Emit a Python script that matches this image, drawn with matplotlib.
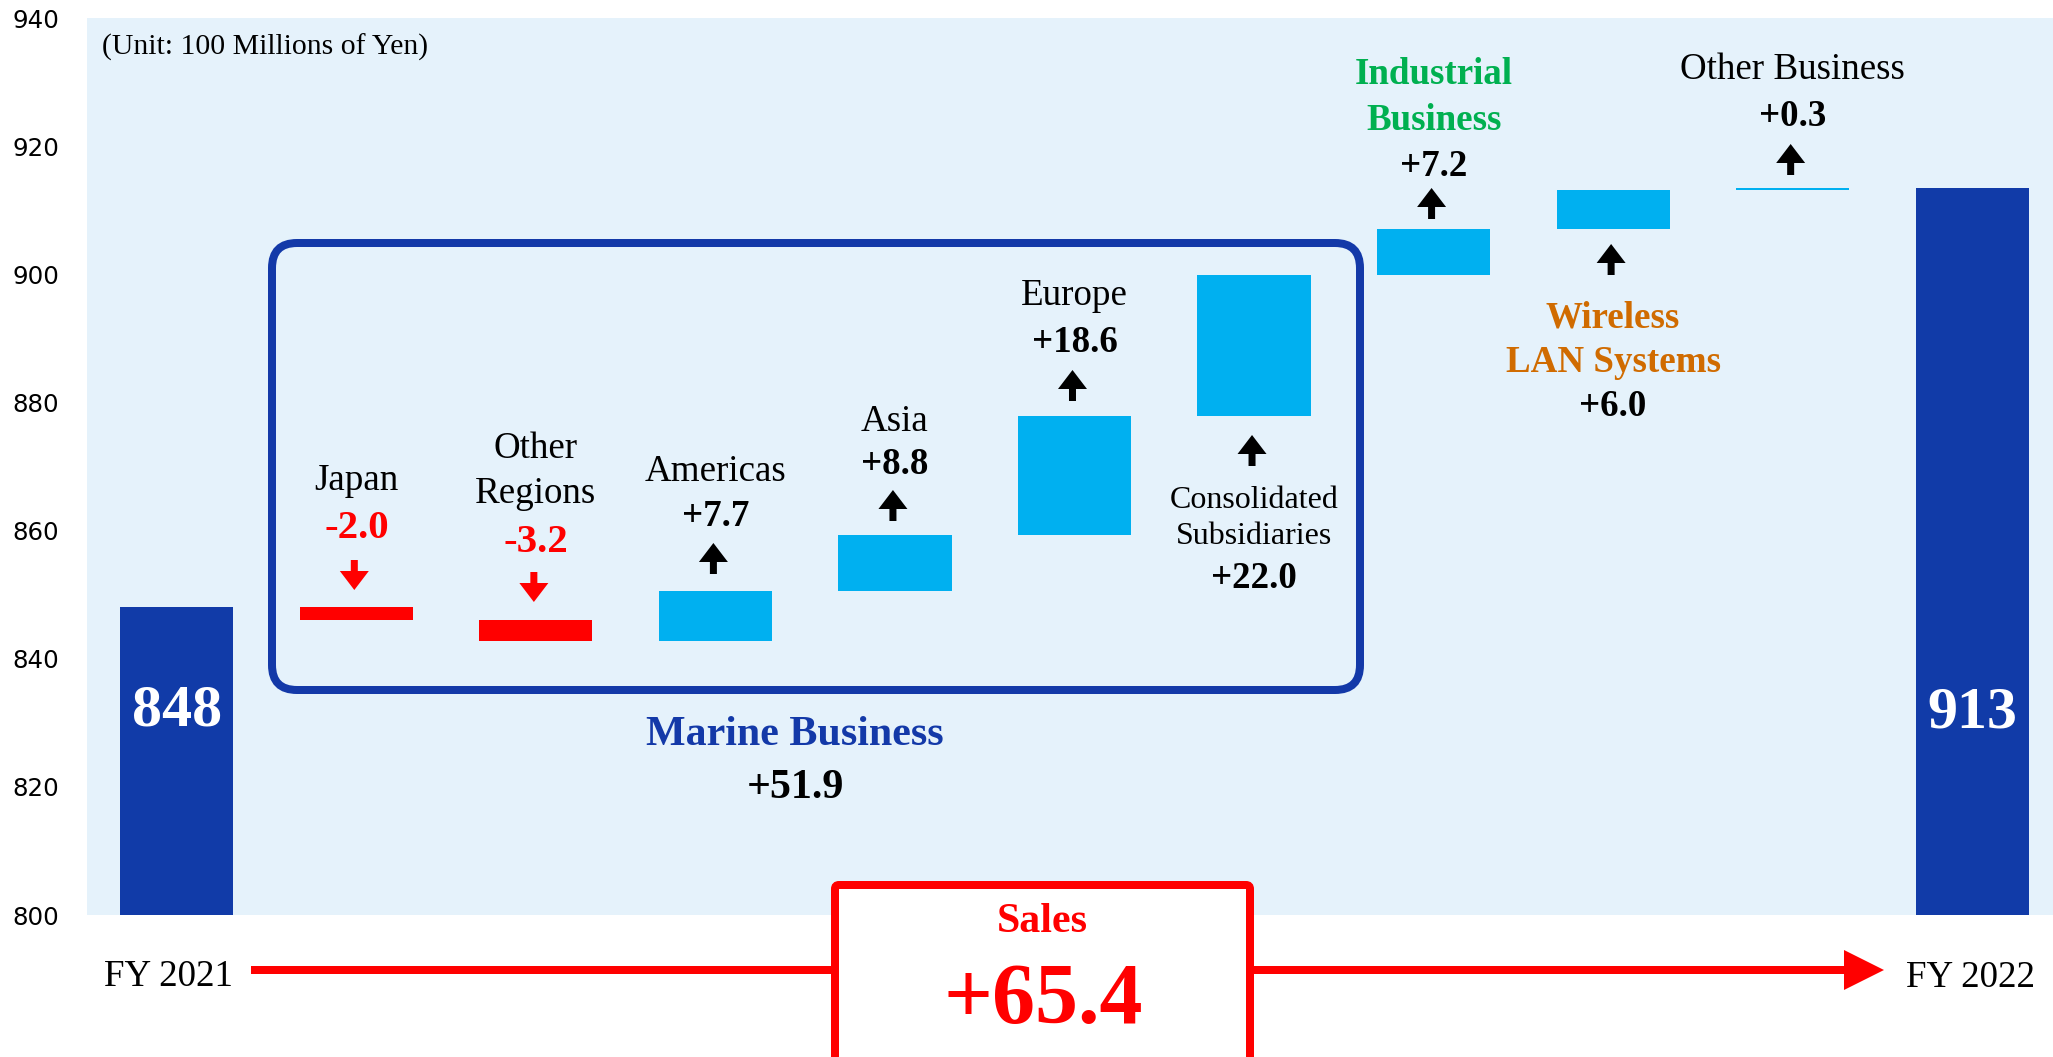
import matplotlib
matplotlib.use("Agg")
import matplotlib.pyplot as plt
from matplotlib.patches import FancyBboxPatch, Polygon
from matplotlib.transforms import IdentityTransform
import numpy as np

# ---------------- data ----------------
categories = ["FY 2021", "Japan", "Other\nRegions", "Americas", "Asia", "Europe",
              "Consolidated\nSubsidiaries", "Industrial\nBusiness", "Wireless\nLAN Systems",
              "Other Business", "FY 2022"]
start_total = 848.0
deltas = [-2.0, -3.2, 7.7, 8.8, 18.6, 22.0, 7.2, 6.0, 0.3]
delta_labels = ["-2.0", "-3.2", "+7.7", "+8.8", "+18.6", "+22.0", "+7.2", "+6.0", "+0.3"]
total_labels = ["848", "913"]
marine_label = "Marine Business"
marine_change = "+51.9"
sales_change = "+65.4"
y_ticks = [800, 820, 840, 860, 880, 900, 920, 940]

# ---------------- style ----------------
W, H, DPI = 2053, 1057, 72
SERIF = ["Liberation Serif", "DejaVu Serif"]
C_TOTAL = "#113BA8"
C_POS = "#00B0F0"
C_NEG = "#FF0000"
C_BG = "#E5F2FB"
C_GREEN = "#00B050"
C_ORANGE = "#D06B00"
C_MARINE = "#1339A8"
DY = 3  # small vertical text offset (px)

fig = plt.figure(figsize=(W / DPI, H / DPI), dpi=DPI)
ax = fig.add_axes([87 / W, 1 - 915 / H, 1 - 87 / W, (915 - 18) / H])
ax.set_facecolor(C_BG)
for s in ax.spines.values():
    s.set_visible(False)

# waterfall computation
n = len(categories)
x = np.arange(n)
bottoms, heights, colors = [], [], []
level = start_total
bottoms.append(800); heights.append(start_total - 800); colors.append(C_TOTAL)
for d in deltas:
    new = level + d
    bottoms.append(min(level, new)); heights.append(abs(d))
    colors.append(C_POS if d >= 0 else C_NEG)
    level = new
end_total = level
bottoms.append(800); heights.append(end_total - 800); colors.append(C_TOTAL)

ax.bar(x, heights, bottom=bottoms, width=0.63, color=colors, zorder=2)
ax.set_xlim(-0.5, 10.45)
ax.set_ylim(800, 940)
ax.set_yticks(y_ticks)
ax.tick_params(axis="y", length=0, pad=28, labelsize=24.5)
ax.set_xticks([])

def fy(ypx):
    return H - ypx

def txt(xi, ypx, s, size, color="black", weight="normal", xcoord="data", **kw):
    ax.annotate(s, xy=(xi, fy(ypx + DY)), xycoords=(xcoord, "figure pixels"),
                ha=kw.pop("ha", "center"), va="center", fontsize=size, color=color,
                fontweight=weight, family=SERIF, annotation_clip=False, zorder=6, **kw)

def arrow(xi, y_tail, y_tip, color="black"):
    # block arrow drawn in pixel space, centred on the bar position
    cx = ax.transData.transform((xi, 0))[0] - 2
    hw, hl, sw = 14.5, 19, 3.5
    sgn = 1 if y_tip > y_tail else -1  # +1 pointing down (in top-down px)
    base = y_tip - sgn * hl
    pts = [(cx - sw, y_tail), (cx + sw, y_tail), (cx + sw, base), (cx + hw, base),
           (cx, y_tip), (cx - hw, base), (cx - sw, base)]
    pts = [(px, fy(py)) for px, py in pts]
    fig.add_artist(Polygon(pts, closed=True, transform=IdentityTransform(),
                           facecolor=color, edgecolor="none", zorder=6))

# unit text
txt(102, 44, "(Unit: 100 Millions of Yen)", 29.7, xcoord="figure pixels", ha="left")

# totals
txt(0, 709, total_labels[0], 60, color="white", weight="bold")
txt(10, 710, total_labels[1], 60, color="white", weight="bold")

# Japan
txt(1, 478, "Japan", 37)
txt(1, 526, delta_labels[0], 41, color=C_NEG, weight="bold")
arrow(1, 560, 590, C_NEG)
# Other regions
txt(2, 446, "Other", 37)
txt(2, 491, "Regions", 37)
txt(2, 539, delta_labels[1], 41, color=C_NEG, weight="bold")
arrow(2, 572, 602, C_NEG)
# Americas
txt(3, 469, "Americas", 37)
txt(3, 514, delta_labels[2], 37, weight="bold")
arrow(3, 574, 543)
# Asia
txt(4, 419, "Asia", 37)
txt(4, 461, delta_labels[3], 37, weight="bold")
arrow(4, 521, 490)
# Europe
txt(5, 293, "Europe", 37)
txt(5, 339, delta_labels[4], 37, weight="bold")
arrow(5, 401, 370)
# Consolidated
arrow(6, 466, 435)
txt(6, 497, "Consolidated", 32)
txt(6, 534, "Subsidiaries", 32)
txt(6, 576, delta_labels[5], 37, weight="bold")
# Industrial
txt(7, 72, "Industrial", 37, color=C_GREEN, weight="bold")
txt(7, 117, "Business", 37, color=C_GREEN, weight="bold")
txt(7, 164, delta_labels[6], 37, weight="bold")
arrow(7, 219, 188)
# Wireless
arrow(8, 275, 244)
txt(8, 315, "Wireless", 37, color=C_ORANGE, weight="bold")
txt(8, 360, "LAN Systems", 37, color=C_ORANGE, weight="bold")
txt(8, 404, delta_labels[7], 37, weight="bold")
# Other business
txt(9, 67, "Other Business", 37)
txt(9, 113, delta_labels[8], 37, weight="bold")
arrow(9, 175, 144)

# Marine box
box = FancyBboxPatch((272, fy(690)), 1360 - 272, 690 - 243,
                     boxstyle="round,pad=0,rounding_size=25",
                     transform=IdentityTransform(), fill=False,
                     edgecolor=C_MARINE, linewidth=8, zorder=3)
fig.add_artist(box)
txt(795, 732, marine_label, 42, color=C_MARINE, weight="bold", xcoord="figure pixels")
txt(795, 785, marine_change, 42, weight="bold", xcoord="figure pixels")

# FY labels
txt(168, 974, categories[0], 37, xcoord="figure pixels")
txt(1970, 975, categories[-1], 37, xcoord="figure pixels")

# big red arrow
ax.annotate("", xy=(1884, fy(970)), xytext=(251, fy(970)),
            xycoords="figure pixels", textcoords="figure pixels",
            arrowprops=dict(arrowstyle="simple,head_length=1.0,head_width=1.0,tail_width=0.2",
                            mutation_scale=40, color=C_NEG, shrinkA=0, shrinkB=0, lw=0),
            annotation_clip=False, zorder=4)

# sales box
sbox = FancyBboxPatch((835, fy(1080)), 1250 - 835, 1080 - 885,
                      boxstyle="round,pad=0,rounding_size=4",
                      transform=IdentityTransform(), facecolor="white",
                      edgecolor=C_NEG, linewidth=8, zorder=5)
fig.add_artist(sbox)
fig.text(1042 / W, 1 - 922 / H, "Sales", fontsize=42, color=C_NEG, fontweight="bold",
         family=SERIF, ha="center", va="center", zorder=7)
fig.text(1043 / W, 1 - 1002 / H, sales_change, fontsize=86, color=C_NEG, fontweight="bold",
         family=SERIF, ha="center", va="center", zorder=7)

fig.savefig("out.png", dpi=DPI, facecolor="white")
